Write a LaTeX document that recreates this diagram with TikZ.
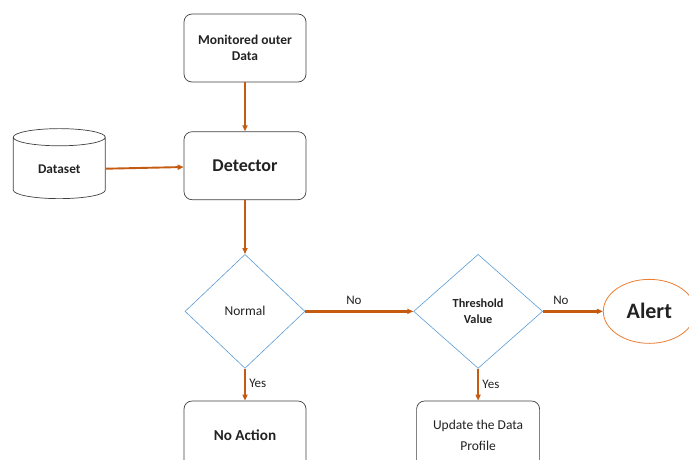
\documentclass[tikz,border=0pt]{standalone}
\usepackage{fontspec}
\setmainfont{Carlito}
\usepackage{xcolor}
\usepackage{tikz}
\usetikzlibrary{arrows.meta,positioning,shapes.geometric}
\definecolor{arrorange}{HTML}{C55A11}
\definecolor{alertorange}{HTML}{ED7D31}
\definecolor{decblue}{HTML}{5B9BD5}
\definecolor{boxgray}{HTML}{404040}
\definecolor{txtgray}{HTML}{222222}

\begin{document}
\begin{tikzpicture}[x=1pt, y=1pt, every node/.style={font=\fontsize{13}{15}\selectfont, text=txtgray}, box/.style={draw=boxgray, rounded corners=8pt, align=center, minimum width=122pt, minimum height=68pt, line width=0.7pt}, decision/.style={diamond, draw=decblue, align=center, line width=0.6pt, inner sep=0pt}, arr/.style={-{Triangle[length=6pt,width=5pt]}, draw=arrorange, line width=1.9pt}, lbl/.style={font=\fontsize{13}{15}\selectfont}]
\clip (0,0) rectangle (689,-459);
\node[box, font=\bfseries\fontsize{13.5}{16}\selectfont] (monitored) at (245,-48) {Monitored outer\\Data};
\node[box, below=49pt of monitored, font=\bfseries\fontsize{18}{21}\selectfont] (detector) {Detector};
\node[cylinder, shape border rotate=90, aspect=0.35, draw=boxgray, line width=0.7pt, minimum width=92pt, minimum height=70pt, left=78pt of detector, yshift=-4pt, font=\bfseries\fontsize{13.3}{15}\selectfont] (dataset) {Dataset};
\node[decision, minimum width=120pt, minimum height=114pt, below=54pt of detector, font=\fontsize{13.5}{16}\selectfont] (normal) {Normal};
\node[decision, minimum width=129pt, minimum height=114pt, right=108pt of normal, font=\bfseries\fontsize{12.3}{15.5}\selectfont] (threshold) {Threshold\\Value};
\node[ellipse, draw=alertorange, line width=0.8pt, minimum width=92pt, minimum height=64pt, right=60pt of threshold, font=\bfseries\fontsize{22}{26}\selectfont] (alert) {Alert};
\node[box, below=32pt of normal, font=\bfseries\fontsize{15.2}{18}\selectfont] (noaction) {No Action};
\node[box, below=32pt of threshold, minimum width=123pt, font=\fontsize{13.5}{21}\selectfont] (update) {Update the Data\\Profile};
\draw[arr] (monitored) -- (detector);
\draw[arr] (dataset) -- (detector);
\draw[arr] (detector) -- (normal);
\draw[arr, line width=2.7pt] (normal) -- node[lbl, above=2pt, pos=0.45]{No} (threshold);
\draw[arr, line width=2.7pt] (threshold) -- node[lbl, above=2pt, pos=0.3]{No} (alert);
\draw[arr] (normal) -- node[lbl, right, pos=0.45]{Yes} (noaction);
\draw[arr] (threshold) -- node[lbl, right, pos=0.5]{Yes} (update);
\end{tikzpicture}
\end{document}
